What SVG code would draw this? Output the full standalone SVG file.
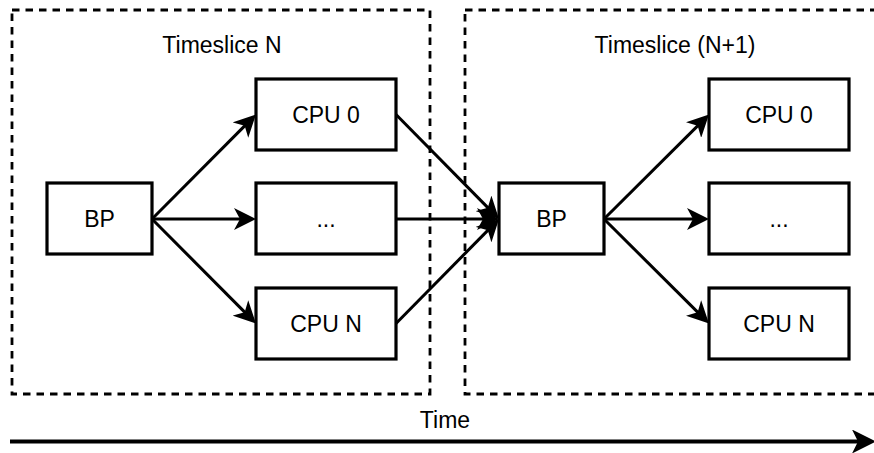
<svg xmlns="http://www.w3.org/2000/svg" width="874" height="453" viewBox="0 0 874 453">
<defs>
<style>
.slice{fill:none;stroke:#000;stroke-width:2.8;stroke-dasharray:7.5 6}
.box{fill:#fff;stroke:#000;stroke-width:3.2}
.lbl{font-family:"Liberation Sans",Arial,sans-serif;font-size:23px;fill:#000;text-anchor:middle}
.edge{fill:none;stroke:#000;stroke-width:3}
</style>
<marker id="ah" viewBox="0 0 22 22" refX="12" refY="11" markerWidth="22" markerHeight="22" markerUnits="userSpaceOnUse" orient="auto">
<path d="M0,0 L22,11 L0,22 L6,11 Z" fill="#000"/>
</marker>
<marker id="ah2" viewBox="0 0 24 24" refX="12" refY="12" markerWidth="24" markerHeight="24" markerUnits="userSpaceOnUse" orient="auto">
<path d="M0,0 L24,12 L0,24 L6,12 Z" fill="#000"/>
</marker>
</defs>
<rect width="874" height="453" fill="#fff"/>
<g id="slice-n">
<rect class="slice" x="12" y="10" width="418" height="384"/>
<text class="lbl" x="222" y="53">Timeslice N</text>
</g>
<g id="slice-n1">
<rect class="slice" x="465" y="10" width="425" height="384"/>
<text class="lbl" x="675" y="53">Timeslice (N+1)</text>
</g>
<g id="connectors">
<line class="edge" x1="152" y1="219" x2="248.9" y2="121.6" marker-end="url(#ah)"/>
<line class="edge" x1="152" y1="219" x2="246" y2="219" marker-end="url(#ah)"/>
<line class="edge" x1="152" y1="219" x2="248.9" y2="316.4" marker-end="url(#ah)"/>
<line class="edge" x1="396" y1="114.5" x2="492" y2="211.9" marker-end="url(#ah)"/>
<line class="edge" x1="396" y1="219" x2="489" y2="219" marker-end="url(#ah)"/>
<line class="edge" x1="396" y1="323.5" x2="492" y2="226.1" marker-end="url(#ah)"/>
<line class="edge" x1="604" y1="219" x2="701.9" y2="121.6" marker-end="url(#ah)"/>
<line class="edge" x1="604" y1="219" x2="699" y2="219" marker-end="url(#ah)"/>
<line class="edge" x1="604" y1="219" x2="701.9" y2="316.4" marker-end="url(#ah)"/>
<line x1="10" y1="441.5" x2="864" y2="441.5" stroke="#000" stroke-width="3.8" marker-end="url(#ah2)"/>
</g>
<g id="bp-left">
<rect class="box" x="47" y="183" width="105" height="71"/>
<text class="lbl" x="99.5" y="227">BP</text>
</g>
<g id="cpu0-left">
<rect class="box" x="256" y="79" width="140" height="71"/>
<text class="lbl" x="326" y="123">CPU 0</text>
</g>
<g id="dots-left">
<rect class="box" x="256" y="183" width="140" height="71"/>
<text class="lbl" x="326" y="227">...</text>
</g>
<g id="cpun-left">
<rect class="box" x="256" y="288" width="140" height="71"/>
<text class="lbl" x="326" y="332">CPU N</text>
</g>
<g id="bp-right">
<rect class="box" x="499" y="183" width="105" height="71"/>
<text class="lbl" x="551.5" y="227">BP</text>
</g>
<g id="cpu0-right">
<rect class="box" x="709" y="79" width="140" height="71"/>
<text class="lbl" x="779" y="123">CPU 0</text>
</g>
<g id="dots-right">
<rect class="box" x="709" y="183" width="140" height="71"/>
<text class="lbl" x="779" y="227">...</text>
</g>
<g id="cpun-right">
<rect class="box" x="709" y="288" width="140" height="71"/>
<text class="lbl" x="779" y="332">CPU N</text>
</g>
<g id="time-label">
<text class="lbl" x="445" y="428">Time</text>
</g>
</svg>
